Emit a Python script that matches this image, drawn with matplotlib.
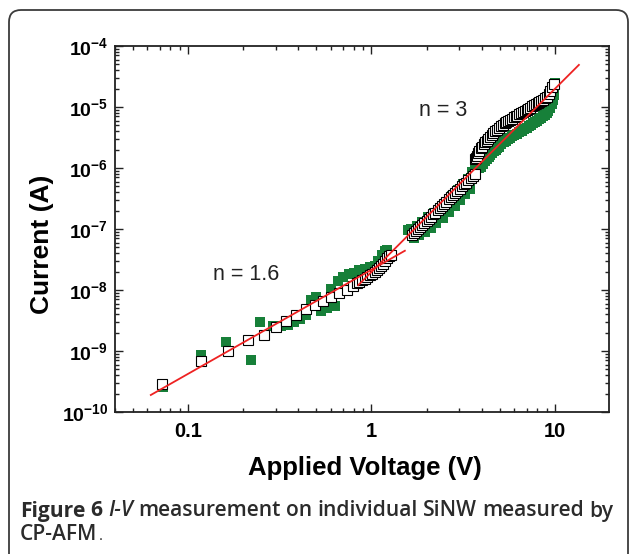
import numpy as np
import matplotlib
matplotlib.use("Agg")
import matplotlib.pyplot as plt
from matplotlib.ticker import LogLocator, NullFormatter, FuncFormatter
from matplotlib.patches import FancyBboxPatch
from matplotlib.transforms import IdentityTransform

# open squares
open_v = [0.072, 0.118, 0.166, 0.211, 0.26, 0.30, 0.343, 0.388, 0.44, 0.49, 0.545, 0.60, 0.665, 0.735, 0.79,
          0.83, 0.86, 0.89, 0.92, 0.95, 0.98, 1.01, 1.04, 1.07, 1.10, 1.13, 1.16, 1.19, 1.22, 1.25, 1.28,
          1.67, 1.71, 1.75, 1.79, 1.84, 1.89, 1.94, 2.00, 2.05, 2.11, 2.17, 2.23, 2.29, 2.36, 2.42, 2.49,
          2.56, 2.63, 2.70, 2.78, 2.86, 2.94, 3.02, 3.10, 3.19, 3.28, 3.37, 3.47, 3.56, 3.66,
          3.68, 3.71, 3.74, 3.80, 3.87, 3.94, 4.02, 4.09, 4.17, 4.25, 4.33, 4.42, 4.52, 4.62, 4.73, 4.84,
          4.95, 5.07, 5.19, 5.31, 5.43, 5.56, 5.69, 5.82, 5.96, 6.10, 6.24, 6.38, 6.53, 6.68, 6.84, 7.00,
          7.16, 7.33, 7.50, 7.67, 7.85, 8.04, 8.22, 8.41, 8.61, 8.81, 9.02, 9.23, 9.44, 9.66, 9.85]
open_i = [2.9e-10, 6.9e-10, 1.0e-9, 1.5e-9, 1.85e-9, 2.45e-9, 3.1e-9, 3.9e-9, 4.8e-9, 5.6e-9, 6.6e-9, 7.7e-9, 8.8e-9, 1.0e-8, 1.18e-8,
          1.29e-8, 1.37e-8, 1.45e-8, 1.54e-8, 1.63e-8, 1.73e-8, 1.84e-8, 1.96e-8, 2.10e-8, 2.26e-8, 2.45e-8, 2.70e-8, 2.98e-8, 3.30e-8, 3.60e-8, 3.75e-8,
          7.9e-8, 8.5e-8, 9.1e-8, 1.0e-7, 1.07e-7, 1.15e-7, 1.26e-7, 1.35e-7, 1.48e-7, 1.58e-7, 1.74e-7, 1.86e-7, 2.04e-7, 2.19e-7, 2.40e-7, 2.57e-7,
          2.82e-7, 3.09e-7, 3.31e-7, 3.63e-7, 3.89e-7, 4.27e-7, 4.57e-7, 5.01e-7, 5.37e-7, 5.75e-7, 6.31e-7, 6.76e-7, 7.41e-7, 7.94e-7,
          1.38e-6, 1.48e-6, 1.58e-6, 1.74e-6, 1.91e-6, 2.09e-6, 2.24e-6, 2.45e-6, 2.63e-6, 2.82e-6, 3.02e-6, 3.24e-6, 3.47e-6, 3.72e-6, 3.98e-6, 4.27e-6,
          4.47e-6, 4.79e-6, 5.13e-6, 5.37e-6, 5.62e-6, 5.89e-6, 6.17e-6, 6.46e-6, 6.76e-6, 7.0e-6, 7.24e-6, 7.59e-6, 7.94e-6, 8.32e-6, 8.61e-6, 8.91e-6,
          9.33e-6, 9.77e-6, 1.02e-5, 1.07e-5, 1.11e-5, 1.15e-5, 1.20e-5, 1.26e-5, 1.32e-5, 1.38e-5, 1.48e-5, 1.62e-5, 1.86e-5, 2.10e-5, 2.35e-5]

# green filled squares
green_v = [0.073, 0.117, 0.162, 0.221, 0.248, 0.29, 0.32, 0.35, 0.38, 0.41, 0.44, 0.47, 0.50, 0.53, 0.57, 0.60, 0.63,
           0.66, 0.70, 0.75, 0.80, 0.86, 0.92, 0.98, 1.04, 1.09, 1.14, 1.18, 1.22,
           1.58, 1.64, 1.70, 1.76, 1.82, 1.88, 1.95, 2.02, 2.10, 2.18, 2.26, 2.35, 2.45, 2.55, 2.65, 2.75,
           2.85, 2.95, 3.05, 3.15, 3.25, 3.35, 3.45, 3.55, 3.65, 3.75,
           3.85, 3.95, 4.05, 4.15, 4.25, 4.35, 4.45, 4.55, 4.65, 4.75, 4.85, 4.95, 5.1, 5.25, 5.4, 5.55, 5.7,
           5.85, 6.0, 6.2, 6.4, 6.6, 6.8, 7.0, 7.2, 7.4, 7.6, 7.8, 8.0, 8.2, 8.4, 8.6, 8.8, 9.0, 9.2, 9.4,
           9.6, 9.75, 9.85, 9.9, 9.95]
green_i = [2.6e-10, 8.5e-10, 1.4e-9, 7.2e-10, 3.0e-9, 2.6e-9, 2.6e-9, 2.7e-9, 3.0e-9, 3.4e-9, 3.9e-9, 6.9e-9, 7.6e-9, 4.6e-9, 5.0e-9, 1.05e-8, 5.4e-9,
           1.4e-8, 1.65e-8, 1.8e-8, 1.9e-8, 2.1e-8, 2.2e-8, 2.35e-8, 2.5e-8, 3.0e-8, 3.7e-8, 4.4e-8, 4.5e-8,
           9.5e-8, 1.0e-7, 7.0e-8, 1.1e-7, 8.0e-8, 1.3e-7, 9.0e-8, 1.55e-7, 1.05e-7, 1.85e-7, 1.25e-7, 2.2e-7, 1.5e-7, 2.8e-7, 1.9e-7, 3.5e-7,
           2.4e-7, 4.3e-7, 3.0e-7, 5.4e-7, 3.7e-7, 6.6e-7, 4.6e-7, 8.5e-7, 1.1e-6, 1.15e-6,
           1.0e-6, 1.05e-6, 1.15e-6, 1.28e-6, 1.4e-6, 1.53e-6, 1.65e-6, 1.78e-6, 1.9e-6, 2.0e-6, 2.15e-6, 2.25e-6, 2.45e-6, 2.65e-6, 2.8e-6, 2.95e-6, 3.1e-6,
           3.3e-6, 3.45e-6, 3.65e-6, 3.85e-6, 4.1e-6, 4.35e-6, 4.6e-6, 4.85e-6, 5.1e-6, 5.4e-6, 5.7e-6, 6.0e-6, 6.3e-6, 6.6e-6, 7.0e-6, 7.4e-6, 7.9e-6, 8.6e-6, 9.5e-6,
           1.1e-5, 1.3e-5, 1.6e-5, 2.0e-5, 2.45e-5]

# fitted power-law lines (end points)
fit1_v = [0.0627, 1.52]
fit1_i = [1.9e-10, 4.4e-8]
fit2_v = [0.847, 13.5]
fit2_i = [1.2e-8, 4.9e-5]

GREEN = "#178039"
RED = "#ee2222"
INK = "#2b2b2b"

plt.rcParams["font.family"] = ["Liberation Sans", "DejaVu Sans"]
plt.rcParams["mathtext.fontset"] = "custom"
plt.rcParams["mathtext.rm"] = "Liberation Sans"
plt.rcParams["mathtext.bf"] = "Liberation Sans:bold"

W, H = 629, 554
fig = plt.figure(figsize=(W / 100, H / 100), dpi=100)
ax = fig.add_axes([115 / W, 1 - 412 / H, 494 / W, 366 / H])

ax.plot(green_v, green_i, "s", color=GREEN, ms=7.8, mew=0, zorder=2)
ax.plot(open_v, open_i, "s", mfc="white", mec="black", ms=7.2, mew=0.8, zorder=3)
ax.plot(fit1_v, fit1_i, color=RED, lw=1.3, zorder=4)
ax.plot(fit2_v, fit2_i, color=RED, lw=1.3, zorder=4)

ax.text(2.45, 8.9e-6, "n = 3", fontsize=15.5, ha="center", va="center", color="#222222")
ax.text(0.2085, 1.8e-8, "n = 1.6", fontsize=15.5, ha="center", va="center", color="#222222")

ax.set_xscale("log")
ax.set_yscale("log")
ax.set_xlim(0.04, 19.7)
ax.set_ylim(1e-10, 1e-4)

ax.xaxis.set_major_locator(LogLocator(base=10, numticks=20))
ax.xaxis.set_minor_locator(LogLocator(base=10, subs=np.arange(2, 10), numticks=20))
ax.yaxis.set_major_locator(LogLocator(base=10, numticks=20))
ax.yaxis.set_minor_locator(LogLocator(base=10, subs=np.arange(2, 10), numticks=20))
ax.xaxis.set_major_formatter(FuncFormatter(lambda v, p: f"{v:g}"))
ax.yaxis.set_major_formatter(FuncFormatter(lambda v, p: r"$\mathbf{10^{%d}}$" % round(np.log10(v))))
ax.xaxis.set_minor_formatter(NullFormatter())
ax.yaxis.set_minor_formatter(NullFormatter())

ax.tick_params(which="both", direction="in", top=True, right=True, width=1.0, color="#222222")
ax.tick_params(which="major", length=5.5)
ax.tick_params(which="minor", length=3)
ax.tick_params(axis="x", labelsize=14.5, pad=7)
ax.tick_params(axis="y", labelsize=14, pad=5)
for lab in ax.get_xticklabels():
    lab.set_fontweight("bold")
for s in ax.spines.values():
    s.set_linewidth(1.3)
    s.set_color("#222222")

fig.text(365 / W, 1 - 468 / H, "Applied Voltage (V)", fontsize=18.5, fontweight="bold",
         ha="center", va="center")
fig.text(42 / W, 1 - 244 / H, "Current (A)", fontsize=19, fontweight="bold",
         rotation=90, ha="center", va="center")

# rounded frame round the whole panel
frame = FancyBboxPatch((9, -20), 619, H - 10 + 20, boxstyle="round,pad=0,rounding_size=12",
                       transform=IdentityTransform(), fill=False, ec="#3c3c3c", lw=1.3)
fig.add_artist(frame)

# caption, line 1 justified between x=20 and x=613
cap = ["Open Sans", "DejaVu Sans"]
renderer = fig.canvas.get_renderer()
words = [("Figure", "bold", "normal"), ("6", "bold", "normal"), ("I-V", "semibold", "italic"),
         ("measurement", "semibold", "normal"), ("on", "semibold", "normal"),
         ("individual", "semibold", "normal"), ("SiNW", "semibold", "normal"),
         ("measured", "semibold", "normal"), ("by", "semibold", "normal")]
base = 12.0
arts = []
for w, wt, st in words:
    t = fig.text(0, 0, w, fontsize=base, family=cap, fontweight=wt, fontstyle=st,
                 color=INK, transform=IdentityTransform(), va="baseline")
    arts.append(t)
total = sum(t.get_window_extent(renderer).width for t in arts)
# pick a size where word gaps come out near a normal space (0.26 em)
size = 593 / (total / base + (len(arts) - 1) * 0.26 * 100 / 72)
for t in arts:
    t.set_fontsize(size)
widths = [t.get_window_extent(renderer).width for t in arts]
gap = (613 - 20 - sum(widths)) / (len(arts) - 1)
x = 20
for t, wd in zip(arts, widths):
    t.set_position((x, H - 516.5))
    x += wd + gap

t2 = fig.text(20, H - 540, "CP-AFM", fontsize=size, family=cap, fontweight="semibold",
              color=INK, transform=IdentityTransform(), va="baseline")
x2 = 20 + t2.get_window_extent(renderer).width + 1
fig.text(x2, H - 540, ".", fontsize=size * 0.7, family=cap, color=INK,
         transform=IdentityTransform(), va="baseline")

fig.savefig("out.png", dpi=100)
